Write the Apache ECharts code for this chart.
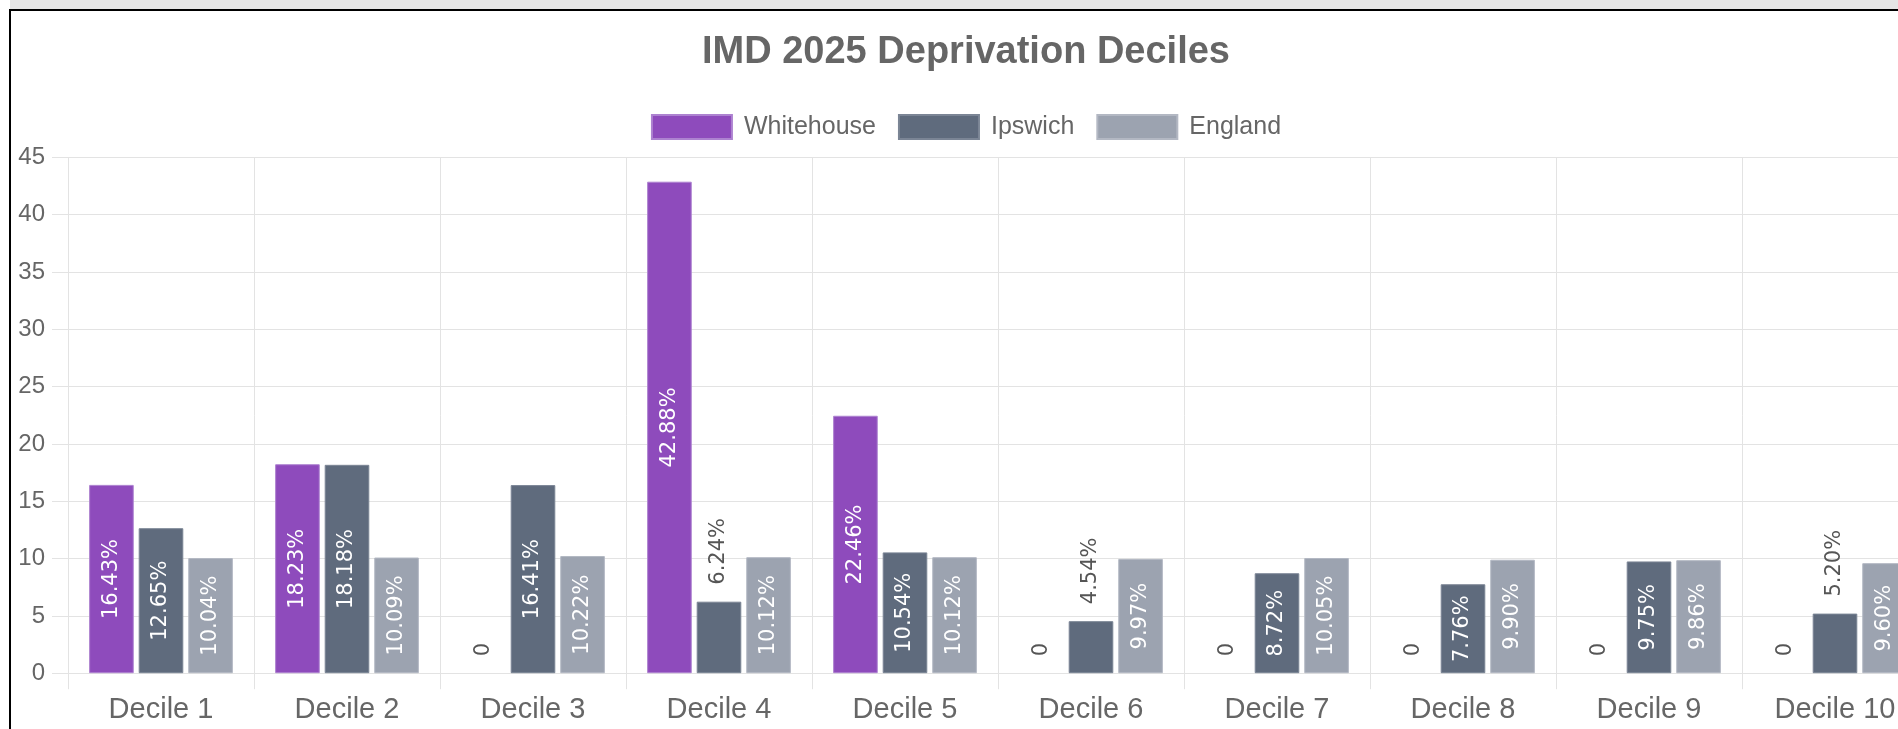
<!DOCTYPE html>
<html>
<head>
<meta charset="utf-8">
<title>IMD 2025 Deprivation Deciles</title>
<script src="https://cdn.jsdelivr.net/npm/echarts@6/dist/echarts.min.js"></script>
<style>
  html, body { margin: 0; padding: 0; background: #fff; overflow: hidden; }
  .topbar { position: absolute; left: 10px; top: 0; right: 0; height: 9px; background: #e5e5e5; }
  .frame { position: absolute; left: 9px; top: 9px; width: 2000px; height: 800px; border-left: 2px solid #000; border-top: 2px solid #000; }
  #chart { position: absolute; left: 0; top: 0; width: 1932px; height: 760px; }
</style>
</head>
<body>
<div class="topbar"></div>
<div class="frame"></div>
<div id="chart"></div>
<script>
/* global echarts */
const categories = ['Decile 1', 'Decile 2', 'Decile 3', 'Decile 4', 'Decile 5', 'Decile 6', 'Decile 7', 'Decile 8', 'Decile 9', 'Decile 10']
const whitehouse = [16.43, 18.23, 0, 42.88, 22.46, 0, 0, 0, 0, 0]
const ipswich = [12.65, 18.18, 16.41, 6.24, 10.54, 4.54, 8.72, 7.76, 9.75, 5.20]
const england = [10.04, 10.09, 10.22, 10.12, 10.12, 9.97, 10.05, 9.90, 9.86, 9.60]
const seriesNames = ['Whitehouse', 'Ipswich', 'England']

const fills = ['#8e4bbc', '#5f6b7d', '#9ca3b0']
const borders = ['#ad82d0', '#7b8595', '#b3b8c3']
const gridColor = '#e3e3e3'
const font = 'Liberation Sans, Arial, Helvetica, sans-serif'
const labelFont = 'DejaVu Sans, Verdana, sans-serif'

// short bars get their label above the bar, the rest inside
function buildData (values) {
  return values.map(v => {
    const item = { value: v }
    if (v === 0) item.itemStyle = { borderWidth: 0 }
    if (v < 7) {
      item.label = { position: 'top', align: 'left', verticalAlign: 'middle', color: '#555', distance: 17 }
    } else {
      item.label = { position: 'inside', align: 'center', verticalAlign: 'middle', color: '#fff' }
    }
    return item
  })
}

function buildSeries () {
  return [whitehouse, ipswich, england].map((values, i) => ({
    name: seriesNames[i],
    type: 'bar',
    barWidth: 44.6,
    barGap: '11.1%',
    itemStyle: { color: fills[i], borderColor: borders[i], borderWidth: 1 },
    label: {
      show: true,
      rotate: 90,
      fontSize: 21,
      fontFamily: labelFont,
      formatter: p => p.value === 0 ? '0' : p.value.toFixed(2) + '%'
    },
    emphasis: { disabled: true },
    data: buildData(values)
  }))
}

const chart = echarts.init(document.getElementById('chart'))
chart.setOption({
  animation: false,
  title: {
    text: 'IMD 2025 Deprivation Deciles',
    left: 'center',
    top: 29,
    textStyle: { fontSize: 38, fontWeight: 'bold', color: '#666', fontFamily: font }
  },
  legend: {
    top: 109,
    left: 'center',
    itemWidth: 80,
    itemHeight: 24,
    itemGap: 22,
    icon: 'rect',
    textStyle: { fontSize: 25, color: '#666', fontFamily: font, padding: [0, 0, 0, 7] }
  },
  grid: { left: 68, top: 157.4, width: 1860, height: 515.8 },
  xAxis: {
    type: 'category',
    data: categories,
    axisLine: { lineStyle: { color: gridColor, width: 1 } },
    axisTick: { show: true, length: 16, interval: 0, lineStyle: { color: gridColor } },
    splitLine: { show: true, interval: 0, lineStyle: { color: gridColor } },
    axisLabel: { fontSize: 29, color: '#666', fontFamily: font, margin: 22, interval: 0 }
  },
  yAxis: {
    type: 'value',
    min: 0,
    max: 45,
    interval: 5,
    axisLine: { show: true, lineStyle: { color: gridColor } },
    axisTick: { show: true, length: 16, lineStyle: { color: gridColor } },
    splitLine: { show: true, lineStyle: { color: gridColor } },
    axisLabel: { fontSize: 24, color: '#666', fontFamily: font, margin: 23 }
  },
  series: buildSeries()
})

window.onresize = () => {
  chart.resize()
}
</script>
</body>
</html>
